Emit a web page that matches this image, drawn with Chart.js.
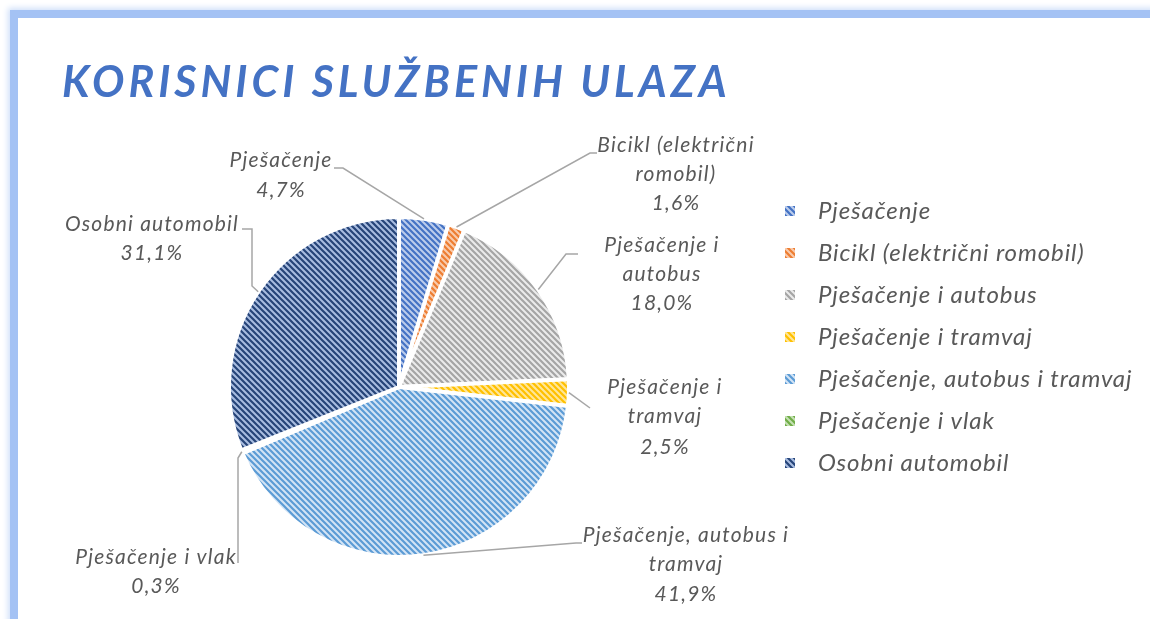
<!DOCTYPE html>
<html lang="hr">
<head>
<meta charset="utf-8">
<script src="https://cdn.jsdelivr.net/npm/chart.js@4.4.1/dist/chart.umd.min.js"></script>
<style>
  html, body { margin: 0; padding: 0; background: #fff; overflow: hidden; }
  .frame {
    position: absolute; left: 10px; top: 10px; width: 1300px; height: 800px;
    border: 8px solid #a4c2f4; box-shadow: 0 0 6px 2px #cfdff9;
  }
  #wrap { position: absolute; left: 0; top: 0; width: 1150px; height: 619px; }
</style>
</head>
<body>
<div class="frame"></div>
<div id="wrap"><canvas id="chart" width="1150" height="619"></canvas></div>
<script>
const chartTitle = 'KORISNICI SLUŽBENIH ULAZA';
const categories = [
  'Pješačenje',
  'Bicikl (električni romobil)',
  'Pješačenje i autobus',
  'Pješačenje i tramvaj',
  'Pješačenje, autobus i tramvaj',
  'Pješačenje i vlak',
  'Osobni automobil'
];
const shares = [4.7, 1.6, 18.0, 2.5, 41.9, 0.3, 31.1];
const lineColors = ['#4472C4', '#ED7D31', '#A5A5A5', '#FFC000', '#5B9BD5', '#70AD47', '#264478'];
const tintColors = ['#bccdec', '#f8cbad', '#ebebeb', '#ffe699', '#d3e4f5', '#c5e0b4', '#a9bde0'];

// label placement (centre x, line y's, leader path from slice edge)
const labelLayout = [
  { lines: ['Pješačenje'], x: 281, y: [160, 190], path: [[343, 168], [334, 168]] },
  { lines: ['Bicikl (električni', 'romobil)'], x: 676, y: [145, 174, 203], path: [[590, 153], [597, 153]] },
  { lines: ['Pješačenje i', 'autobus'], x: 662, y: [245, 274, 303], path: [[566, 254], [578, 254]] },
  { lines: ['Pješačenje i', 'tramvaj'], x: 665, y: [387, 416, 447], path: [[590, 408]] },
  { lines: ['Pješačenje, autobus i', 'tramvaj'], x: 686, y: [535, 564, 594], path: [[576, 543], [582, 543]] },
  { lines: ['Pješačenje i vlak'], x: 156, y: [557, 586], path: [[238, 458], [238, 563]] },
  { lines: ['Osobni automobil'], x: 152, y: [224, 253], path: [[252, 286], [252, 229], [242, 229]] }
];

const textColor = '#595959';
const labelFont = 'italic 21px Lato, sans-serif';
const legendFont = 'italic 24px Lato, sans-serif';

function makePattern(bg, fg) {
  const size = 6;
  const c = document.createElement('canvas');
  c.width = size;
  c.height = size;
  const ctx = c.getContext('2d');
  ctx.fillStyle = bg;
  ctx.fillRect(0, 0, size, size);
  ctx.strokeStyle = fg;
  ctx.lineWidth = 2.2;
  ctx.beginPath();
  ctx.moveTo(-1, -1); ctx.lineTo(size + 1, size + 1);
  ctx.moveTo(size - 1, -1); ctx.lineTo(size + 1, 1);
  ctx.moveTo(-1, size - 1); ctx.lineTo(1, size + 1);
  ctx.stroke();
  return ctx.createPattern(c, 'repeat');
}

const canvas = document.getElementById('chart');
const patterns = lineColors.map((col, i) => makePattern(tintColors[i], col));

const titlePlugin = {
  id: 'bigTitle',
  afterDraw(chart) {
    const ctx = chart.ctx;
    ctx.save();
    ctx.font = 'italic bold 43px Lato, sans-serif';
    ctx.fillStyle = '#4472C4';
    ctx.textBaseline = 'alphabetic';
    ctx.textAlign = 'left';
    if ('letterSpacing' in ctx) ctx.letterSpacing = '4px';
    ctx.fillText(chartTitle, 62, 97);
    ctx.restore();
  }
};

const outLabelsPlugin = {
  id: 'outLabels',
  afterDatasetsDraw(chart) {
    const ctx = chart.ctx;
    const arcs = chart.getDatasetMeta(0).data;
    ctx.save();
    arcs.forEach((arc, i) => {
      const lay = labelLayout[i];
      const mid = (arc.startAngle + arc.endAngle) / 2;
      const ex = arc.x + Math.cos(mid) * arc.outerRadius;
      const ey = arc.y + Math.sin(mid) * arc.outerRadius;
      ctx.strokeStyle = '#a6a6a6';
      ctx.lineWidth = 1.5;
      ctx.beginPath();
      ctx.moveTo(ex, ey);
      lay.path.forEach(p => ctx.lineTo(p[0], p[1]));
      ctx.stroke();

      const texts = lay.lines.concat([shares[i].toFixed(1).replace('.', ',') + '%']);
      ctx.font = labelFont;
      if ('letterSpacing' in ctx) ctx.letterSpacing = '1.2px';
      ctx.fillStyle = textColor;
      ctx.textAlign = 'center';
      ctx.textBaseline = 'middle';
      texts.forEach((t, k) => ctx.fillText(t, lay.x, lay.y[k]));
    });
    ctx.restore();
  }
};

const legendPlugin = {
  id: 'sideLegend',
  afterDraw(chart) {
    const ctx = chart.ctx;
    ctx.save();
    categories.forEach((name, i) => {
      const y = 211 + i * 42;
      ctx.fillStyle = patterns[i];
      ctx.fillRect(785, y - 5, 10, 10);
      ctx.font = legendFont;
      if ('letterSpacing' in ctx) ctx.letterSpacing = '0.9px';
      ctx.fillStyle = textColor;
      ctx.textAlign = 'left';
      ctx.textBaseline = 'middle';
      ctx.fillText(name, 818, y);
    });
    ctx.restore();
  }
};

new Chart(canvas, {
  type: 'pie',
  data: {
    labels: categories,
    datasets: [{
      data: shares,
      backgroundColor: patterns,
      borderColor: '#ffffff',
      borderWidth: 4,
      hoverOffset: 0
    }]
  },
  options: {
    responsive: false,
    animation: false,
    layout: { padding: { left: 227, right: 579, top: 215, bottom: 60 } },
    plugins: {
      legend: { display: false },
      tooltip: { enabled: false }
    }
  },
  plugins: [outLabelsPlugin, legendPlugin, titlePlugin]
});
</script>
</body>
</html>
